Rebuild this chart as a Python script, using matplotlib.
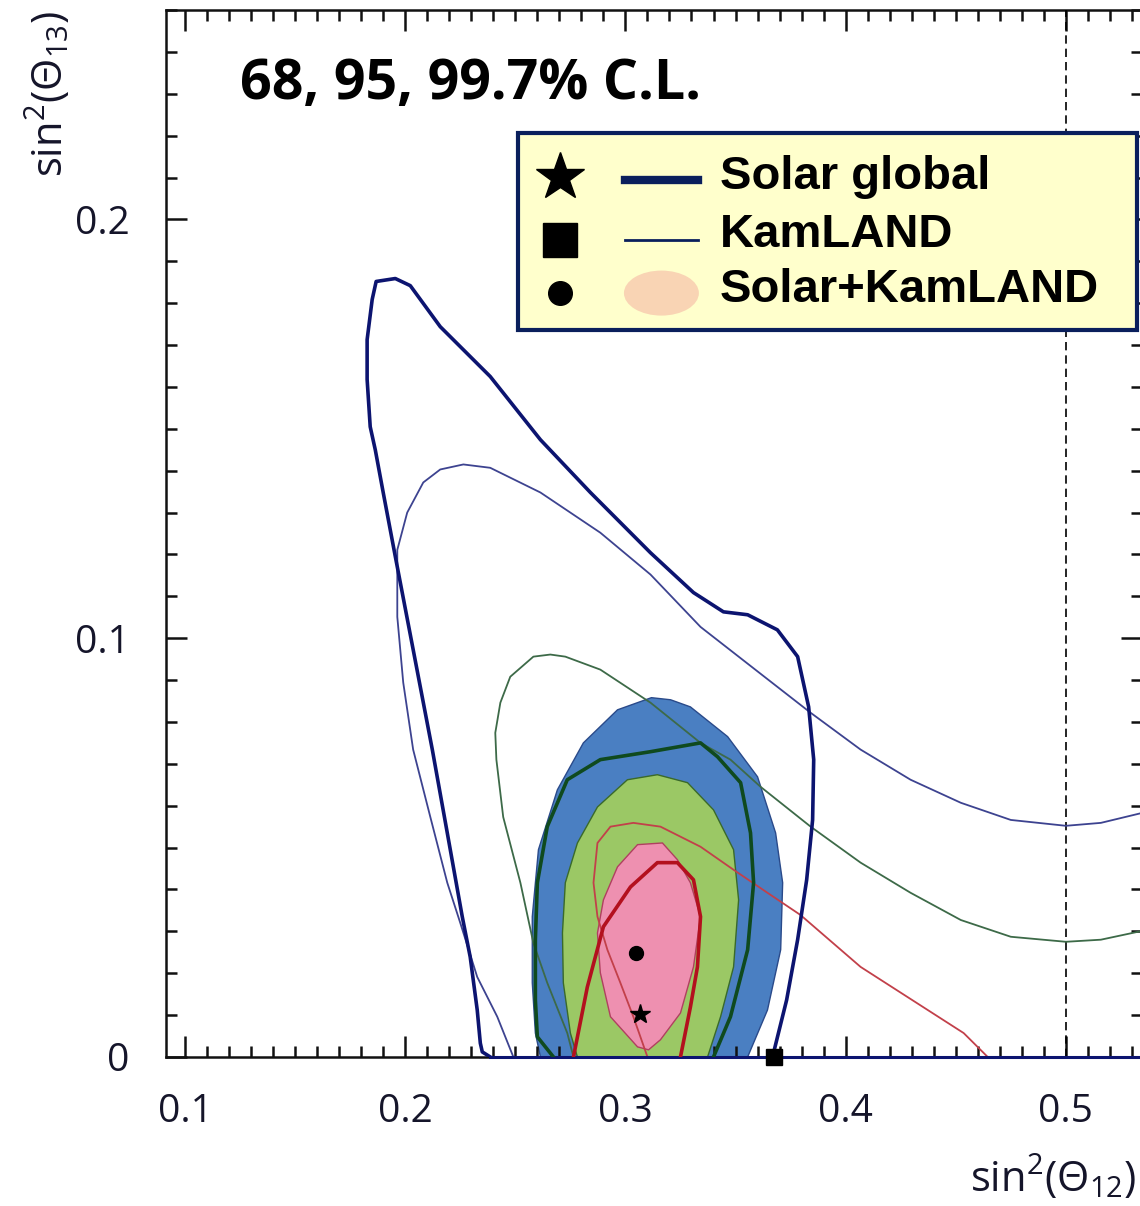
import numpy as np
import matplotlib
matplotlib.use("Agg")
import matplotlib.pyplot as plt
from matplotlib.patches import Rectangle, Ellipse
from matplotlib.lines import Line2D

plt.rcParams['mathtext.fontset'] = 'custom'
plt.rcParams['mathtext.rm'] = 'Open Sans'
plt.rcParams['mathtext.it'] = 'Open Sans:italic'

# ---- contour data, (sin^2 theta12, sin^2 theta13) ----
# Solar global, outer (thick navy)
solar3_x = [0.2386, 0.235, 0.2341, 0.2327, 0.2295, 0.2259, 0.2191, 0.2123, 0.2036, 0.1955,
            0.19, 0.1864, 0.1841, 0.1827, 0.1827, 0.185, 0.1868, 0.1955, 0.2023, 0.2159,
            0.2386, 0.2614, 0.2841, 0.3114, 0.3309, 0.3445, 0.3555, 0.369, 0.3782, 0.3832,
            0.3855, 0.385, 0.3823, 0.3782, 0.3732, 0.3668]
solar3_y = [0.0, 0.0012, 0.0033, 0.0112, 0.0239, 0.0335, 0.0535, 0.0734, 0.0973, 0.1195,
            0.1348, 0.145, 0.1505, 0.1618, 0.1713, 0.1809, 0.1852, 0.1859, 0.1842, 0.1744,
            0.1625, 0.1474, 0.1348, 0.1204, 0.1109, 0.1063, 0.1056, 0.102, 0.0956, 0.0836,
            0.071, 0.0566, 0.0423, 0.028, 0.0136, 0.0]

# Solar global, middle (thick dark green)
solar2_x = [0.2673, 0.26, 0.2591, 0.2591, 0.26, 0.2645, 0.2736, 0.2886, 0.3114, 0.3341,
            0.3418, 0.3523, 0.3568, 0.3582, 0.3555, 0.3477, 0.34]
solar2_y = [0.0, 0.0048, 0.0136, 0.028, 0.0416, 0.055, 0.0662, 0.071, 0.0729, 0.075,
            0.0717, 0.0655, 0.0535, 0.0416, 0.0256, 0.0096, 0.0]

# Solar global, inner (thick red)
solar1_x = [0.2764, 0.2827, 0.29, 0.3023, 0.3145, 0.3236, 0.3309, 0.3341, 0.3327, 0.3295,
            0.325]
solar1_y = [0.0, 0.0167, 0.0311, 0.0406, 0.0464, 0.0464, 0.0423, 0.0335, 0.0215, 0.0119,
            0.0]

# KamLAND (thin lines)
kam3_x = [0.2491, 0.2418, 0.2327, 0.225, 0.2191, 0.2114, 0.2036, 0.1991, 0.1964, 0.1964,
          0.2009, 0.2082, 0.2159, 0.2264, 0.2386, 0.2614, 0.2886, 0.3114, 0.3341, 0.3614,
          0.3841, 0.4068, 0.4295, 0.4523, 0.475, 0.5, 0.5159, 0.5364]
kam3_y = [0.0, 0.0096, 0.0191, 0.032, 0.0416, 0.0573, 0.0734, 0.0894, 0.1051, 0.1211,
          0.13, 0.1372, 0.1403, 0.1415, 0.1407, 0.1348, 0.1252, 0.1152, 0.1027, 0.0915,
          0.0822, 0.0734, 0.0662, 0.0607, 0.0566, 0.0552, 0.0559, 0.0585]

kam2_x = [0.2764, 0.2736, 0.2645, 0.2582, 0.2523, 0.2445, 0.2414, 0.2409, 0.2432, 0.2477,
          0.2582, 0.2659, 0.2727, 0.2886, 0.3114, 0.3341, 0.3477, 0.3614, 0.3841, 0.4068,
          0.4295, 0.4523, 0.475, 0.5, 0.5159, 0.5364]
kam2_y = [0.0, 0.0057, 0.0177, 0.0272, 0.0416, 0.0573, 0.071, 0.0774, 0.0846, 0.0908,
          0.0956, 0.0961, 0.0956, 0.0925, 0.0846, 0.075, 0.071, 0.0645, 0.055, 0.0464,
          0.0392, 0.0327, 0.0287, 0.0275, 0.028, 0.0303]

kam1_x = [0.31, 0.3036, 0.2977, 0.2918, 0.2873, 0.2855, 0.2873, 0.2932, 0.3036, 0.3159,
          0.3341, 0.3491, 0.3645, 0.3795, 0.4068, 0.4373, 0.4536, 0.4645]
kam1_y = [0.0, 0.0096, 0.0177, 0.0256, 0.0335, 0.0416, 0.0511, 0.055, 0.0559, 0.055,
          0.0502, 0.0447, 0.0392, 0.0339, 0.0215, 0.0112, 0.0057, 0.0]

# Solar+KamLAND filled regions
comb3_x = [0.2614, 0.2591, 0.2577, 0.2577, 0.2605, 0.2691, 0.2809, 0.2964, 0.3118, 0.3205,
           0.3295, 0.3464, 0.36, 0.3682, 0.3714, 0.3705, 0.3645, 0.3555]
comb3_y = [0.0, 0.0057, 0.0177, 0.0335, 0.0495, 0.0638, 0.075, 0.0829, 0.0858, 0.0853,
           0.0836, 0.0765, 0.0669, 0.0535, 0.0416, 0.0256, 0.0112, 0.0]

comb2_x = [0.2782, 0.275, 0.2718, 0.2714, 0.2727, 0.2782, 0.2873, 0.3009, 0.3145, 0.3282,
           0.34, 0.3491, 0.3514, 0.3491, 0.3432, 0.3373]
comb2_y = [0.0, 0.0057, 0.0177, 0.0296, 0.0416, 0.0511, 0.0597, 0.0662, 0.0674, 0.0655,
           0.059, 0.0495, 0.0375, 0.0215, 0.0096, 0.0]

comb1_x = [0.3055, 0.2932, 0.2886, 0.2873, 0.29, 0.2964, 0.3055, 0.3168, 0.3236, 0.3295,
           0.3341, 0.3309, 0.325, 0.3159, 0.3105]
comb1_y = [0.0024, 0.0096, 0.0201, 0.0296, 0.0375, 0.0454, 0.0507, 0.0511, 0.0471, 0.0416,
           0.0335, 0.0215, 0.0105, 0.0041, 0.0017]

# best fit points
best_comb = (0.305, 0.0249)
best_solar = (0.3064, 0.0103)
best_kam = (0.3673, 0.0)

xticks = [0.1, 0.2, 0.3, 0.4, 0.5]
xticklabels = ['0.1', '0.2', '0.3', '0.4', '0.5']
yticks = [0.0, 0.1, 0.2]
yticklabels = ['0', '0.1', '0.2']

NAVY = '#0c1470'
NAVY_THIN = '#3d4390'
GREEN = '#0f4a1e'
GREEN_THIN = '#3d6a48'
RED = '#b3101e'
RED_THIN = '#c2404a'

fig = plt.figure(figsize=(11.4, 12.06), dpi=100)
ax = fig.add_axes([0.1456, 0.1236, 0.856, 0.868])

# filled Solar+KamLAND regions
ax.fill(comb3_x, comb3_y, facecolor='#4a7fc2', edgecolor='#2a4a8a', lw=1.0, zorder=1)
ax.fill(comb2_x, comb2_y, facecolor='#9bc865', edgecolor='#3a6a2a', lw=1.0, zorder=2)
ax.fill(comb1_x, comb1_y, facecolor='#ee90b0', edgecolor='#b04060', lw=1.0, zorder=3)

# KamLAND contours (thin)
ax.plot(kam3_x, kam3_y, color=NAVY_THIN, lw=1.3, zorder=4)
ax.plot(kam2_x, kam2_y, color=GREEN_THIN, lw=1.3, zorder=4)
ax.plot(kam1_x, kam1_y, color=RED_THIN, lw=1.3, zorder=4)
ax.plot([0.2386, 0.54], [0.0, 0.0], color=NAVY, lw=2.2, zorder=4, clip_on=False)

# Solar global contours (thick)
ax.plot(solar3_x, solar3_y, color=NAVY, lw=2.6, zorder=5)
ax.plot(solar2_x, solar2_y, color=GREEN, lw=2.6, zorder=5)
ax.plot(solar1_x, solar1_y, color=RED, lw=2.6, zorder=5)

ax.axvline(0.5, color='black', lw=1.2, ls=(0, (5, 3)), zorder=3)

ax.plot(*best_comb, marker='o', color='black', ms=10, zorder=6)
ax.plot(*best_solar, marker='*', color='black', ms=15, zorder=6)
ax.plot(*best_kam, marker='s', color='black', ms=11, zorder=6, clip_on=False)

ax.set_xlim(0.09136, 0.5345)
ax.set_ylim(0.0, 0.25)
ax.set_xticks(xticks)
ax.set_xticklabels(xticklabels)
ax.set_yticks(yticks)
ax.set_yticklabels(yticklabels)
ax.set_xticks(np.arange(0.1, 0.535, 0.01), minor=True)
ax.set_yticks(np.arange(0.0, 0.251, 0.01), minor=True)
ax.tick_params(which='both', direction='in', top=True, right=True, width=1.8, color='#111111')
ax.tick_params(which='major', length=15)
ax.tick_params(which='minor', length=8)
ax.tick_params(axis='x', which='major', pad=26)
ax.tick_params(axis='y', which='major', pad=26)
for lab in ax.get_xticklabels() + ax.get_yticklabels():
    lab.set_fontfamily('Open Sans')
    lab.set_fontsize(28)
    lab.set_color('#15152a')
for s in ax.spines.values():
    s.set_linewidth(1.8)
    s.set_color('#111111')

fig.text(0.042, 0.922, r'$\mathrm{sin^2(\Theta_{13})}$', rotation=90, ha='center', va='center',
         fontsize=30, color='#15152a')
fig.text(0.924, 0.024, r'$\mathrm{sin^2(\Theta_{12})}$', ha='center', va='center',
         fontsize=30, color='#15152a')

ax.text(0.0758, 0.929, '68, 95, 99.7% C.L.', transform=ax.transAxes, ha='left', va='center',
        fontsize=40, fontweight='bold', family='Open Sans', color='black')

# legend box
ax.add_patch(Rectangle((0.3607, 0.6944), 0.6342, 0.1881, transform=ax.transAxes,
                       facecolor='#ffffcc', edgecolor='#0a1f5c', lw=3, zorder=8))
ax.add_line(Line2D([0.4037], [0.8405], marker='*', ms=36, color='black',
                   transform=ax.transAxes, zorder=9))
ax.add_line(Line2D([0.4037], [0.7803], marker='s', ms=25, color='black',
                   transform=ax.transAxes, zorder=9))
ax.add_line(Line2D([0.4037], [0.7297], marker='o', ms=17, color='black',
                   transform=ax.transAxes, zorder=9))
ax.add_line(Line2D([0.4703, 0.5451], [0.8376, 0.8376], color='#0a1f5c', lw=6,
                   transform=ax.transAxes, zorder=9))
ax.add_line(Line2D([0.4703, 0.5451], [0.7803, 0.7803], color='#0a1f5c', lw=2,
                   transform=ax.transAxes, zorder=9))
ax.add_patch(Ellipse((0.5077, 0.7297), 0.0768, 0.043, transform=ax.transAxes,
                     facecolor='#f9d4b4', edgecolor='none', zorder=9))
for txt, yy in [('Solar global', 0.8405), ('KamLAND', 0.7851), ('Solar+KamLAND', 0.7326)]:
    ax.text(0.5676, yy, txt, transform=ax.transAxes, ha='left', va='center', fontsize=34,
            fontweight='bold', family='Liberation Sans', color='black', zorder=10)

fig.savefig('out.png', dpi=100)
